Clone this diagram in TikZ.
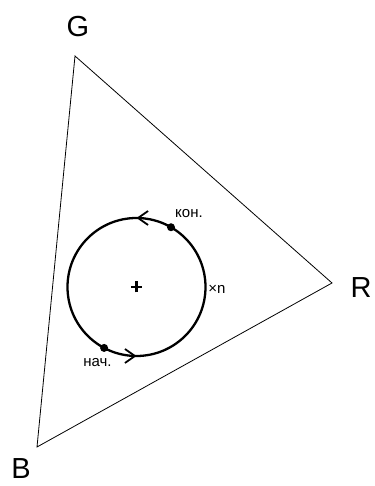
\documentclass[tikz,border=0pt]{standalone}
\usepackage{fontspec}
\setmainfont{Liberation Sans}
\usetikzlibrary{arrows.meta, calc}
\usetikzlibrary{decorations.markings, math}
\tikzset{
vertex/.style={font=\fontsize{29}{34}\selectfont, inner sep=0pt},
small/.style={font=\fontsize{15}{18}\selectfont, inner sep=0pt},
dot/.style={circle, fill=black, inner sep=0pt, minimum size=8pt},
loop/.style={line width=2.3pt, postaction={decorate}, decoration={markings,
  mark=at position 0.25 with {\arrow{Straight Barb[length=10pt,width=14pt,line width=1.8pt]}},
  mark=at position 0.75 with {\arrow{Straight Barb[length=10pt,width=14pt,line width=1.8pt]}}}}
}

\begin{document}
\begin{tikzpicture}[x=1pt,y=1pt]
\tikzmath{
\R=69;
}
\useasboundingbox (0,0) rectangle (374,486);

% triangle
\coordinate (g) at (75,430);
\coordinate (r) at (332,203);
\coordinate (b) at (37,39);
\draw[line width=0.8pt, line join=miter] (g) -- (r) -- (b) -- cycle;
\node[vertex] (glabel) at (78,459) {G};
\node[vertex] (rlabel) at (361,198) {R};
\node[vertex] (blabel) at (21,17) {B};

% circle
\coordinate (c) at (136.5,199);
\draw[loop] (c) circle (\R);
\draw[line width=2.8pt] ($(c)+(-5.5,0)$) -- ($(c)+(5.5,0)$) ($(c)+(0,-5.5)$) -- ($(c)+(0,5.5)$);
\node[dot] (end) at ($(c)+(60:\R)$) {};
\node[dot] (start) at ($(c)+(242:\R)$) {};
\node[small] (endlabel) at (189,272) {кон.};
\node[small] (startlabel) at (97.5,123.5) {нач.};
\node[small] (times) at (217,197) {×n};

\end{tikzpicture}
\end{document}
